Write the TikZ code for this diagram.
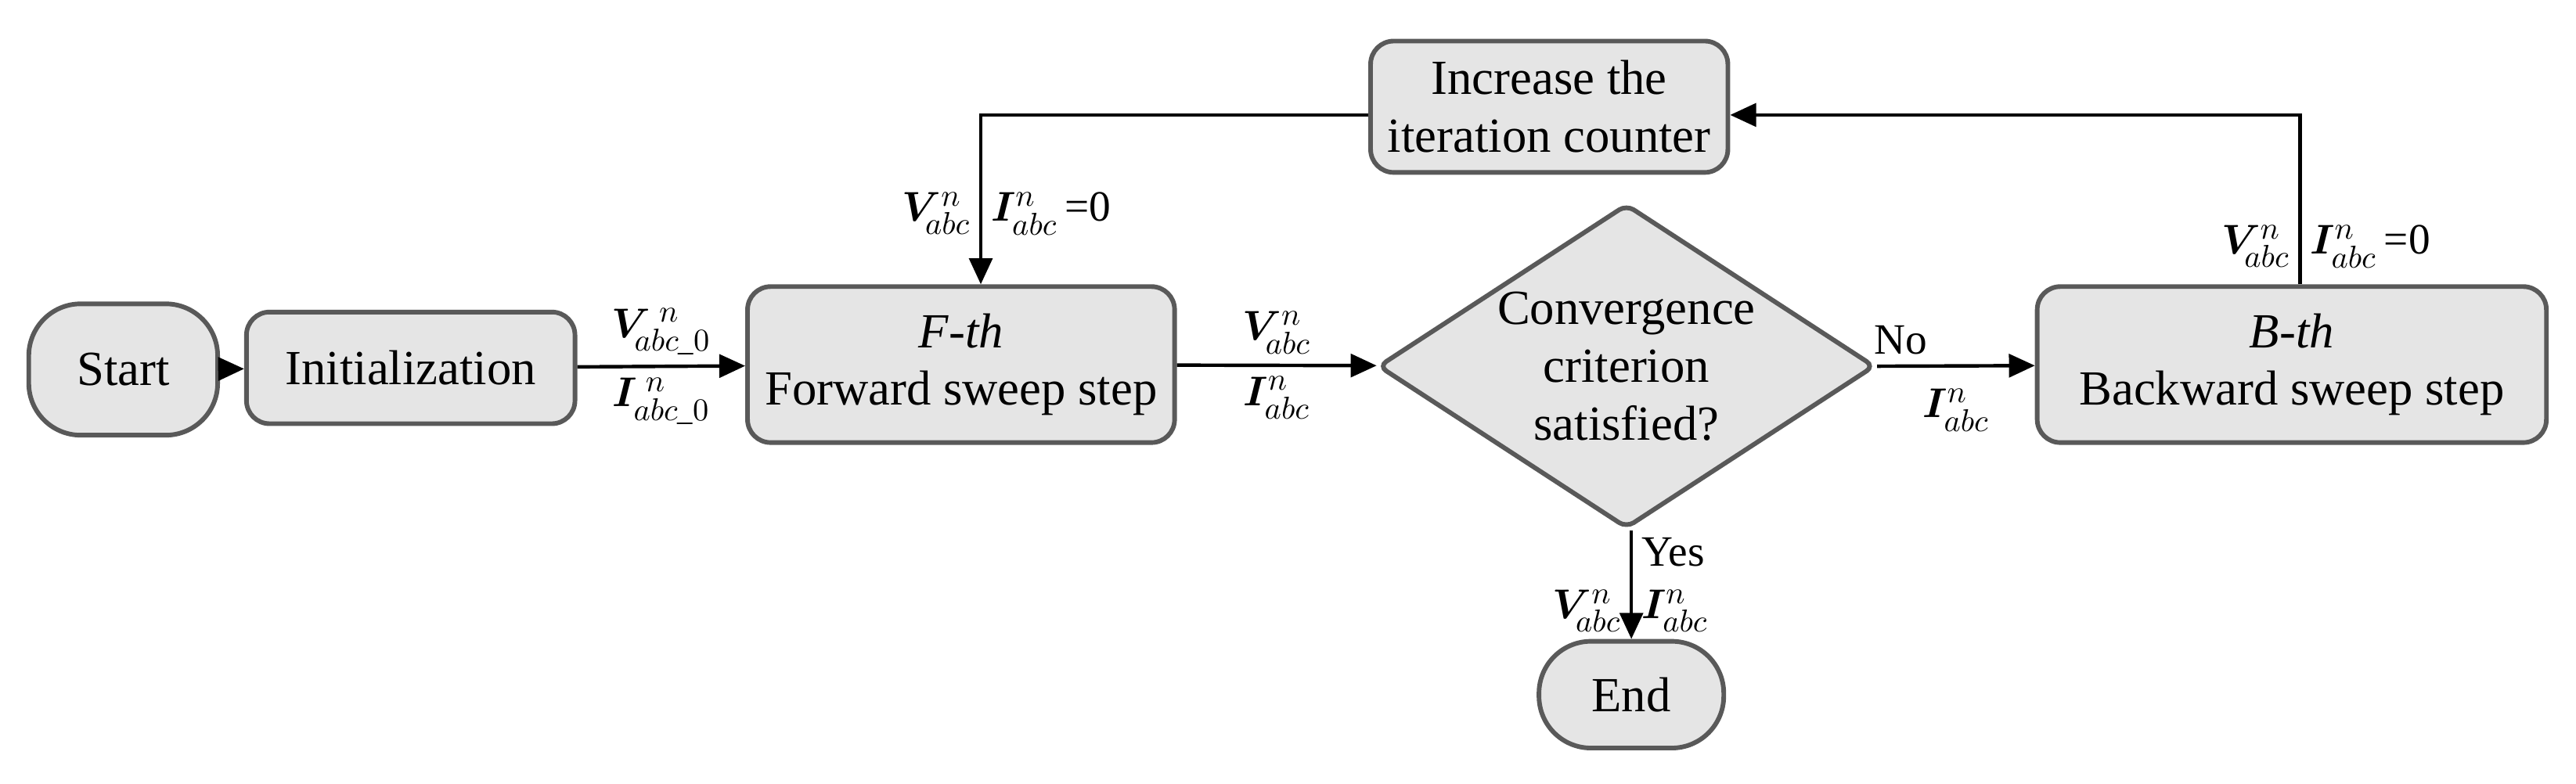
\documentclass[tikz,border=0pt]{standalone}
\usepackage{amsmath,amssymb,bm}
\usepackage{fontspec}
\setmainfont{Liberation Serif}
\usetikzlibrary{shapes.geometric,arrows.meta}
\begin{document}
\begin{tikzpicture}[x=0.02cm,y=-0.02cm,
  box/.style={draw=black!65,line width=1.6pt,fill=black!10,rounded corners=8pt,align=center,font=\fontsize{17}{20}\selectfont},
  arr/.style={-{Triangle[length=9pt,width=8pt]},line width=1.2pt},
  lab/.style={font=\fontsize{15}{17}\selectfont}]
\useasboundingbox (0,0) rectangle (1568,477);
\node[box,rounded corners=18pt,minimum width=2.3cm,minimum height=1.6cm] (start) at (75,225) {Start};
\node[box,minimum width=4cm,minimum height=1.36cm] (init) at (250,224) {Initialization};
\node[box,minimum width=5.2cm,minimum height=1.9cm] (fw) at (585,222) {\textit{F-th}\\Forward sweep step};
\node[box,diamond,rounded corners=3pt,aspect=1.55,minimum width=6.05cm,minimum height=3.95cm,inner sep=0pt] (dia) at (990,223) {Convergence\\criterion\\satisfied?};
\node[box,minimum width=6.2cm,minimum height=1.9cm] (bw) at (1395,222) {\textit{B-th}\\Backward sweep step};
\node[box,minimum width=4.35cm,minimum height=1.6cm] (inc) at (943,65) {Increase the\\iteration counter};
\node[box,rounded corners=18pt,minimum width=2.25cm,minimum height=1.3cm] (end) at (993,423) {End};
\coordinate (c1) at (1400,70);
\coordinate (c2) at (597,70);
\draw[arr] (start) -- (init);
\draw[arr] (init) -- (fw) node[lab,midway,above] {$\bm{V}_{\!abc\_0}^{\;n}$} node[lab,midway,below] {$\bm{I}_{abc\_0}^{\;n}$};
\draw[arr] (fw) -- (dia) node[lab,midway,above] {$\bm{V}_{\!abc}^{n}$} node[lab,midway,below] {$\bm{I}_{abc}^{n}$};
\draw[arr] (dia.east) -- (bw) node[lab,pos=0.15,above] {No} node[lab,pos=0.5,below,yshift=-4pt] {$\bm{I}_{abc}^{n}$};
\draw[arr] (bw.north -| c1) -- (c1) -- (inc.east |- c1);
\node[lab,left] at (1400,150) {$\bm{V}_{\!abc}^{n}$};
\node[lab,right] at (1400,150) {$\bm{I}_{abc}^{n}$\,=0};
\draw[arr] (inc.west |- c2) -- (c2) -- (fw.north -| c2);
\node[lab,left] at (597,130) {$\bm{V}_{\!abc}^{n}$};
\node[lab,right] at (597,130) {$\bm{I}_{abc}^{n}$\,=0};
\draw[arr] (dia.south -| end) -- (end.north);
\node[lab,right] at (993,336) {Yes};
\node[lab,left] at (993,372) {$\bm{V}_{\!abc}^{n}$};
\node[lab,right] at (993,372) {$\bm{I}_{abc}^{n}$};
\end{tikzpicture}
\end{document}
